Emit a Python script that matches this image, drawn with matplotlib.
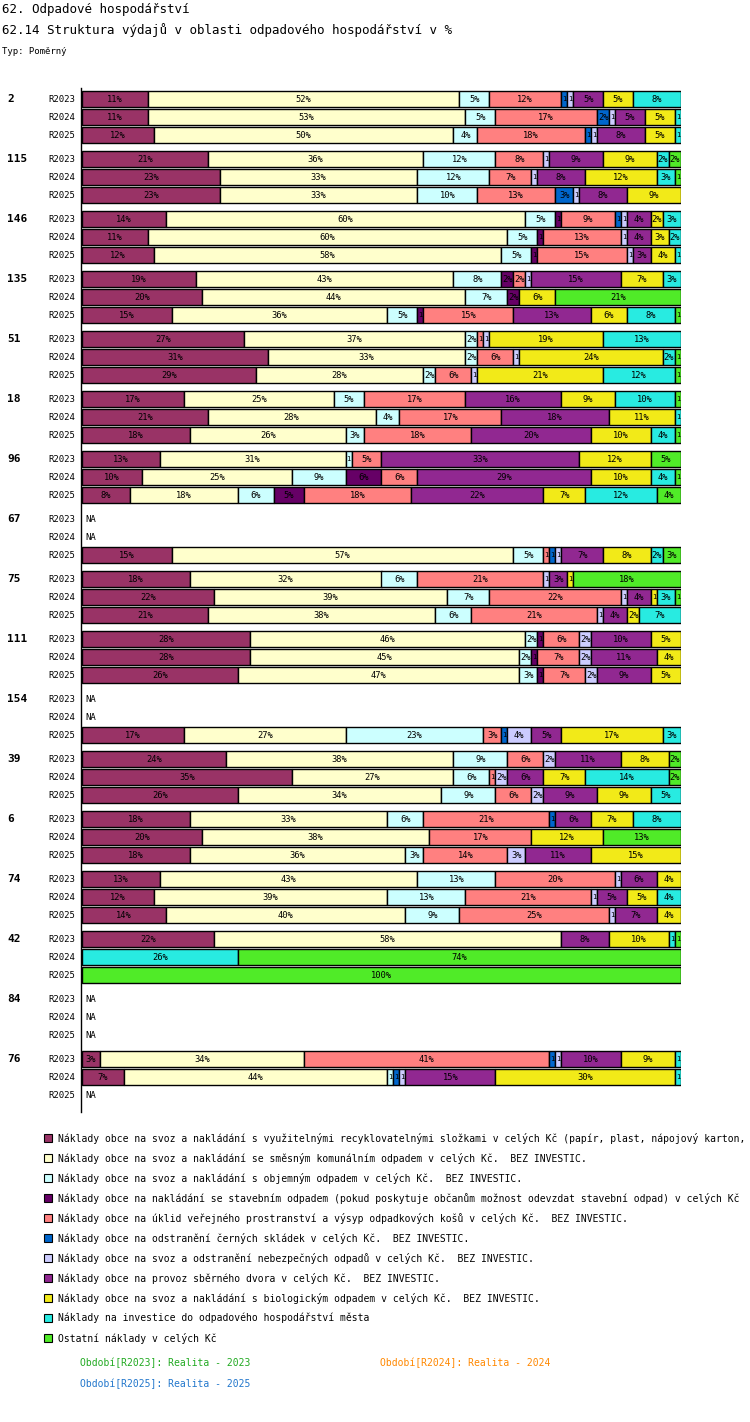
import matplotlib
matplotlib.use("Agg")
import matplotlib.pyplot as plt
from matplotlib.patches import Rectangle

groups = ["2","115","146","135","51","18","96","67","75","111","154","39","6","74","42","84","76"]
periods = ["R2023","R2024","R2025"]
NA = None
# order: recyk, smesny, objemny, stavebni, uklid, cerne skladky, nebezpecne, sberny dvur, bio, investice, ostatni
values = [
 [[11,52,5,0,12,1,1,5,5,8,0],[11,53,5,0,17,2,1,5,5,1,0],[12,50,4,0,18,1,1,8,5,1,0]],
 [[21,36,12,0,8,0,1,9,9,2,2],[23,33,12,0,7,0,1,8,12,3,1],[23,33,10,0,13,3,1,8,9,0,0]],
 [[14,60,5,1,9,1,1,4,2,3,0],[11,60,5,1,13,0,1,4,3,2,0],[12,58,5,1,15,0,1,3,4,1,0]],
 [[19,43,8,2,2,0,1,15,7,3,0],[20,44,7,2,0,0,0,0,6,0,21],[15,36,5,1,15,0,0,13,6,8,1]],
 [[27,37,2,0,1,0,1,0,19,13,0],[31,33,2,0,6,0,1,0,24,2,1],[29,28,2,0,6,0,1,0,21,12,1]],
 [[17,25,5,0,17,0,0,16,9,10,1],[21,28,4,0,17,0,0,18,11,1,0],[18,26,3,0,18,0,0,20,10,4,1]],
 [[13,31,1,0,5,0,0,33,12,0,5],[10,25,9,6,6,0,0,29,10,4,1],[8,18,6,5,18,0,0,22,7,12,4]],
 [NA,NA,[15,57,5,0,1,1,1,7,8,2,3]],
 [[18,32,6,0,21,0,1,3,1,0,18],[22,39,7,0,22,0,1,4,1,3,1],[21,38,6,0,21,0,1,4,2,7,0]],
 [[28,46,2,1,6,0,2,10,5,0,0],[28,45,2,1,7,0,2,11,4,0,0],[26,47,3,1,7,0,2,9,5,0,0]],
 [NA,NA,[17,27,23,0,3,1,4,5,17,3,0]],
 [[24,38,9,0,6,0,2,11,8,0,2],[35,27,6,0,1,0,2,6,7,14,2],[26,34,9,0,6,0,2,9,9,5,0]],
 [[18,33,6,0,21,1,0,6,7,8,0],[20,38,0,0,17,0,0,0,12,0,13],[18,36,3,0,14,0,3,11,15,0,0]],
 [[13,43,13,0,20,0,1,6,4,0,0],[12,39,13,0,21,0,1,5,5,4,0],[14,40,9,0,25,0,1,7,4,0,0]],
 [[22,58,0,0,0,0,0,8,10,1,1],[0,0,0,0,0,0,0,0,0,26,74],[0,0,0,0,0,0,0,0,0,0,100]],
 [NA,NA,NA],
 [[3,34,0,0,41,1,1,10,9,1,0],[7,44,1,0,0,1,1,15,30,1,0],NA],
]
colors = ["#993366","#FFFFCC","#CCFFFF","#660066","#FF8080","#0066CC","#CCCCFF","#912891","#F2EA18","#28EBE1","#50EB28"]
legend_labels = [
 "Náklady obce na svoz a nakládání s využitelnými recyklovatelnými složkami v celých Kč (papír, plast, nápojový karton, sklo, kovy)",
 "Náklady obce na svoz a nakládání se směsným komunálním odpadem v celých Kč.  BEZ INVESTIC.",
 "Náklady obce na svoz a nakládání s objemným odpadem v celých Kč.  BEZ INVESTIC.",
 "Náklady obce na nakládání se stavebním odpadem (pokud poskytuje občanům možnost odevzdat stavební odpad) v celých Kč",
 "Náklady obce na úklid veřejného prostranství a výsyp odpadkových košů v celých Kč.  BEZ INVESTIC.",
 "Náklady obce na odstranění černých skládek v celých Kč.  BEZ INVESTIC.",
 "Náklady obce na svoz a odstranění nebezpečných odpadů v celých Kč.  BEZ INVESTIC.",
 "Náklady obce na provoz sběrného dvora v celých Kč.  BEZ INVESTIC.",
 "Náklady obce na svoz a nakládání s biologickým odpadem v celých Kč.  BEZ INVESTIC.",
 "Náklady na investice do odpadového hospodářství města",
 "Ostatní náklady v celých Kč",
]

W, H = 750, 1422
fig = plt.figure(figsize=(W/100, H/100), dpi=100)
mono = "DejaVu Sans Mono"
ax = fig.add_axes([82/W, 1-1112/H, (681-82)/W, (1112-88)/H])
ax.set_xlim(0, 100)
ax.set_ylim(1013, -11)
ax.axis("off")
fig.add_artist(plt.Line2D([81/W, 81/W], [1-88/H, 1-1112/H], color="black", lw=1))

for g, (name, rows) in enumerate(zip(groups, values)):
    for r, (per, row) in enumerate(zip(periods, rows)):
        y = g*60 + r*18
        ax.text(-1.2, y, per, ha="right", va="center", fontsize=6.5, family=mono)
        if r == 0:
            ax.text(-12.5, y, name, ha="left", va="center", fontsize=8, family=mono, weight="bold")
        if row is None:
            ax.text(0.5, y, "NA", ha="left", va="center", fontsize=6.5, family=mono)
            continue
        tot = sum(row)
        left = 0
        for v, c in zip(row, colors):
            if v <= 0:
                continue
            w = v / tot * 100
            ax.barh(y, w, left=left, height=16, color=c, edgecolor="black", lw=1)
            if w >= 1.8:
                ax.text(left + w/2, y, f"{v}%", ha="center", va="center", fontsize=6.3, family=mono)
            else:
                ax.text(left + w/2, y, "1", ha="center", va="center", fontsize=5, family=mono)
            left += w

fig.text(2/W, 1-10/H, "62. Odpadové hospodářství", fontsize=9, family=mono, va="center")
fig.text(2/W, 1-30/H, "62.14 Struktura výdajů v oblasti odpadového hospodářství v %", fontsize=9, family=mono, va="center")
fig.text(2/W, 1-51/H, "Typ: Poměrný", fontsize=6.5, family=mono, va="center")

for i, (lab, c) in enumerate(zip(legend_labels, colors)):
    y = 1138 + i*20
    fig.patches.append(Rectangle((44/W, 1-(y+4)/H), 8/W, 8/H, transform=fig.transFigure,
                                 facecolor=c, edgecolor="black", lw=0.8))
    fig.text(58/W, 1-y/H, lab, fontsize=7, family=mono, va="center")

fig.text(80/W, 1-1363/H, "Období[R2023]: Realita - 2023", fontsize=7, family=mono, va="center", color="#22AA22")
fig.text(380/W, 1-1363/H, "Období[R2024]: Realita - 2024", fontsize=7, family=mono, va="center", color="#FF8800")
fig.text(80/W, 1-1384/H, "Období[R2025]: Realita - 2025", fontsize=7, family=mono, va="center", color="#2277CC")

fig.savefig("out.png", dpi=100)
